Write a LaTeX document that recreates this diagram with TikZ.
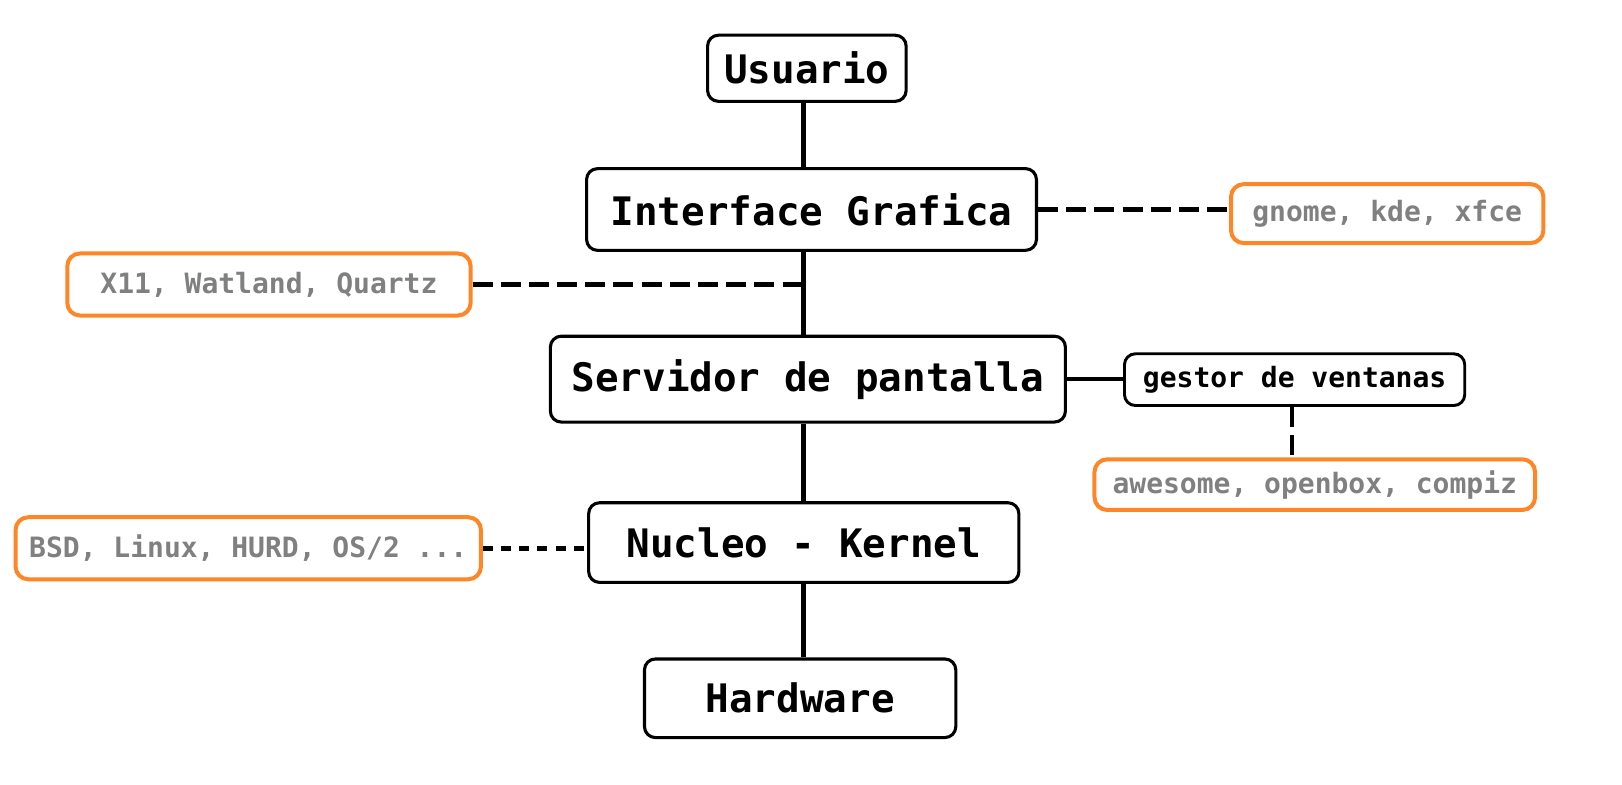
\documentclass[tikz,border=0pt]{standalone}
\usepackage{fontspec}
\setmonofont{DejaVu Sans Mono}
\usepackage{xcolor}
\usepackage{tikz}
\usetikzlibrary{calc}
\definecolor{tagorange}{RGB}{255,134,38}
\definecolor{taggray}{RGB}{128,128,128}
\tikzset{
  layer/.style={draw,line width=1.7pt,rounded corners=6pt,inner sep=0pt,font=\ttfamily\bfseries\fontsize{21.6}{24}\selectfont},
  side/.style={draw,line width=1.6pt,rounded corners=6pt,inner sep=0pt,font=\ttfamily\bfseries\fontsize{15.4}{18}\selectfont},
  tag/.style={draw=tagorange,line width=2.2pt,rounded corners=7pt,inner sep=0pt,text=taggray,font=\ttfamily\bfseries\fontsize{15.4}{18}\selectfont},
  link/.style={line width=2.6pt},
  dlink/.style={line width=2.7pt,dash pattern=on 11pt off 4.5pt},
  sdlink/.style={line width=2.5pt,dash pattern=on 5.5pt off 4.5pt},
}
\begin{document}
\begin{tikzpicture}[x=0.02cm,y=-0.02cm]
\useasboundingbox (0,0) rectangle (1568,758);
\coordinate (spine) at (777,0);
% main stack
\node[layer,minimum width=3.84cm,minimum height=1.28cm] (usr) at (780,66) {Usuario};
\node[layer,minimum width=8.7cm,minimum height=1.58cm] (gui) at (784.5,202.5) {Interface Grafica};
\node[layer,minimum width=9.96cm,minimum height=1.66cm] (srv) at (781,366.5) {Servidor de pantalla};
\node[layer,minimum width=8.32cm,minimum height=1.54cm] (krn) at (777,524.5) {Nucleo - Kernel};
\node[layer,minimum width=6.02cm,minimum height=1.52cm] (hw) at (773.5,675) {Hardware};
% side notes
\node[side,minimum width=6.58cm,minimum height=1.0cm] (wm) at (1251.5,367) {gestor de ventanas};
\node[tag,minimum width=6.04cm,minimum height=1.14cm] (de) at (1341,206.5) {gnome, kde, xfce};
\node[tag,minimum width=7.8cm,minimum height=1.2cm] (xsrv) at (260,275) {X11, Watland, Quartz};
\node[tag,minimum width=8.52cm,minimum height=0.98cm] (wms) at (1271,468.5) {awesome, openbox, compiz};
\node[tag,minimum width=9.0cm,minimum height=1.2cm] (os) at (240,530) {BSD, Linux, HURD, OS/2 ...};
\coordinate (xj) at (xsrv -| spine);
\draw[link] (usr.south -| spine) -- (gui.north -| spine); \draw[link] (gui.south -| spine) -- (srv.north -| spine);
\draw[link] (srv.south -| spine) -- (krn.north -| spine); \draw[link] (krn.south -| spine) -- (hw.north -| spine);
\draw[dlink] (xsrv.east) -- (xj);
\draw[dlink] (gui.east) -- (gui.east -| de.west);
\draw[link] (srv.east) -- (srv.east -| wm.west);
\draw[dlink] (wm.south -| 1249,0) -- (wms.north -| 1249,0);
\draw[sdlink] (os.east) -- (os.east -| krn.west);
\end{tikzpicture}
\end{document}
